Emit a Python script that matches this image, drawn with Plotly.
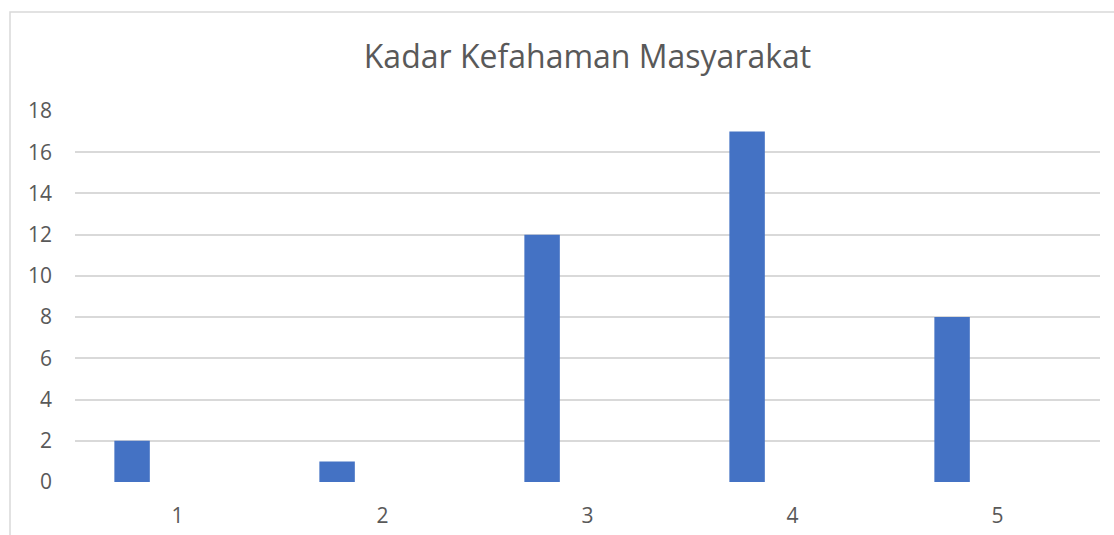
import plotly.graph_objects as go

# survey levels and number of respondents
levels = [1, 2, 3, 4, 5]
counts = [2, 1, 12, 17, 8]
y_ticks = [0, 2, 4, 6, 8, 10, 12, 14, 16, 18]

text_col = '#595959'
grid_col = '#D9D9D9'

fig = go.Figure()
fig.add_trace(go.Bar(x=levels, y=counts, marker_color='#4472C4',
                     marker_line_width=0, width=0.173, offset=-0.308))

fig.update_layout(
    width=1114, height=535,
    paper_bgcolor='white', plot_bgcolor='white',
    margin=dict(l=75, r=14, t=111, b=53),
    font=dict(family='Open Sans', color=text_col, size=21),
    title=dict(text='Kadar Kefahaman Masyarakat', x=0.5, xref='paper', xanchor='center',
               y=1 - 57 / 535, yanchor='middle', font=dict(size=32, color=text_col)),
    showlegend=False,
    xaxis=dict(range=[0.5, 5.5], tickvals=levels, ticktext=[str(v) for v in levels], automargin=False,
               showgrid=False, zeroline=False, showline=False, ticks='', ticklabelstandoff=19),
    yaxis=dict(range=[0, 18], tickvals=y_ticks, showgrid=True, gridcolor=grid_col, gridwidth=1.5,
               automargin=False, zeroline=False, showline=False, ticks='', ticklabelstandoff=22),
    shapes=[dict(type='rect', xref='paper', yref='paper',
                 x0=-65 / 1025, x1=1.05, y0=-0.3, y1=1 + 99 / 371,
                 line=dict(color=grid_col, width=1.5), fillcolor='rgba(0,0,0,0)', layer='below')],
)

# drop the default page margin so the figure sits at the window origin
fig.write_html('out.html', config={'displayModeBar': False},
               post_script="document.body.style.margin='0';")
